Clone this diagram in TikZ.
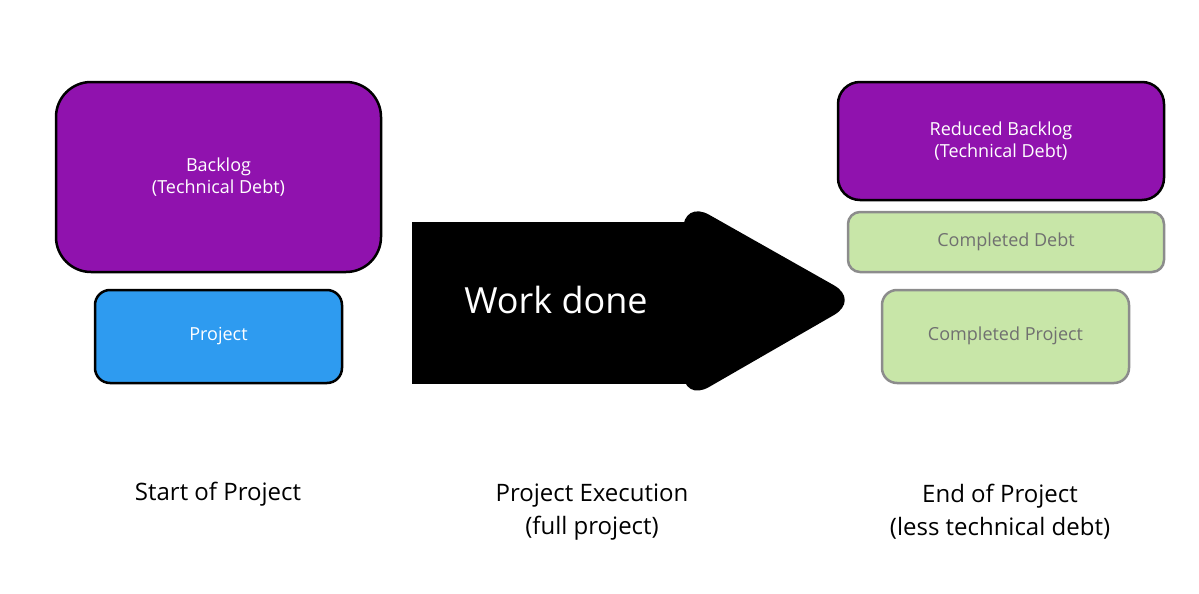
\documentclass[tikz,border=0pt]{standalone}
\usepackage{fontspec}
\setmainfont{Open Sans}
\definecolor{purp}{HTML}{9012AE}
\definecolor{blu}{HTML}{2E9BF0}
\definecolor{grn}{HTML}{C8E6A8}
\definecolor{gtxt}{HTML}{707070}
\begin{document}
\begin{tikzpicture}[x=1pt,y=-1pt,
  box/.style={draw=black,line width=2.5pt,rounded corners=#1},
  lbl/.style={font=\fontsize{18}{22}\selectfont,align=center},
  captxt/.style={font=\fontsize{24}{33}\selectfont,align=center}]
\useasboundingbox (0,0) rectangle (1199,594);
\draw[box=35,fill=purp] (56,82) rectangle (381,272);
\node[lbl,text=white] (bl) at (218.5,177) {Backlog\\(Technical Debt)};
\draw[box=15,fill=blu] (95,290) rectangle (342,383);
\node[lbl,text=white] (pr) at (218.5,336) {Project};
\fill[black,rounded corners=30] (683,200) -- (860,300) -- (683,402) -- cycle;
\fill[black] (412,222) rectangle (700,384);
\node[font=\fontsize{36}{40}\selectfont,text=white] (wd) at (556,300) {Work done};
\draw[box=22,fill=purp] (838,82) rectangle (1164,200);
\node[lbl,text=white] (rb) at (1001,141) {Reduced Backlog\\(Technical Debt)};
\draw[box=12,fill=grn,draw=gray!90] (848,212) rectangle (1164,272);
\node[lbl,text=gtxt] (cd) at (1006,242) {Completed Debt};
\draw[box=15,fill=grn,draw=gray!90] (882,290) rectangle (1129,383);
\node[lbl,text=gtxt] (cp) at (1005.5,336) {Completed Project};
\node[captxt] (c1) at (218,494) {Start of Project};
\node[captxt] (c2) at (592,512) {Project Execution\\(full project)};
\node[captxt] (c3) at (1000,512) {End of Project\\(less technical debt)};
\end{tikzpicture}
\end{document}
